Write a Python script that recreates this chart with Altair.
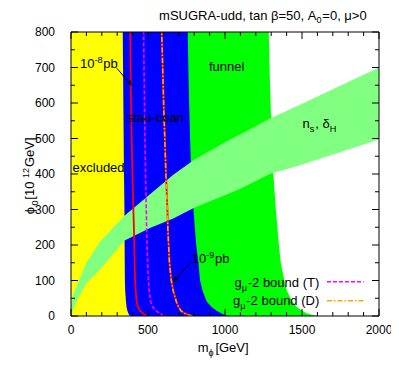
import altair as alt
import pandas as pd

# ---------------- data ----------------
# region boundaries: m_phi [GeV] at given phi_0 [10^12 GeV]
phi_grid = [0, 3, 8, 15, 25, 40, 70, 100, 150, 200, 300, 400, 500, 600, 700, 800]
excluded_edge = [385, 378, 372, 366, 361, 357, 352, 350, 349, 348, 347, 344, 342, 340, 338, 336]
stau_edge = [1020, 1000, 975, 945, 915, 882, 855, 838, 827, 813, 795, 781, 773, 767, 762, 758]
funnel_edge = [1600, 1570, 1530, 1500, 1468, 1438, 1403, 1385, 1362, 1350, 1330, 1314, 1303, 1296, 1289, 1284]

# constraint curves: m_phi at given phi_0
curve_phi = [0, 3, 8, 15, 25, 40, 70, 100, 150, 242, 300, 400, 500, 600, 700, 800]
sigma_1e8 = [495, 480, 465, 448, 435, 426, 420, 416, 413, 409, 405, 399, 394, 390, 387, 385]
gmu_T = [605, 595, 575, 550, 530, 517, 508, 503, 498, 491, 489, 484, 480, 477, 474, 472]
sigma_1e9 = [790, 765, 735, 715, 700, 685, 665, 652, 640, 630, 626, 617, 610, 602, 596, 590]
gmu_D = [788, 763, 733, 713, 699, 684, 664, 651, 639, 629, 625, 616, 609, 601, 595, 589]

# n_s, delta_H band
band_m = [0, 15, 45, 100, 188, 345, 513, 664, 800, 1011, 1097, 1292, 1487, 2000]
band_upper = [30, 62, 92, 150, 209, 282, 343, 398, 440, 492, 511, 556, 595, 700]
band_lower = [0, 18, 50, 92, 130, 212, 248, 275, 305, 342, 358, 400, 425, 497]

# axes ticks
x_major = [0, 500, 1000, 1500, 2000]
x_minor = [v for v in range(0, 2001, 100) if v % 500]
y_major = [0, 100, 200, 300, 400, 500, 600, 700, 800]
y_minor = [50, 150, 250, 350, 450, 550, 650, 750]

# arrows (start m, start phi, tip m, tip phi)
arrow_8 = [297, 698, 394, 650]
arrow_9 = [773, 148, 664, 97]

# ---------------- styling ----------------
FONT = "Liberation Sans"
W, H = 308, 284
NB = "\u00A0"
xs = alt.Scale(domain=[0, 2000], nice=False, zero=False)
ys = alt.Scale(domain=[0, 800], nice=False, zero=False)


def X(f="m"):
    return alt.X(f"{f}:Q", scale=xs, axis=None)


def Y(f="phi"):
    return alt.Y(f"{f}:Q", scale=ys, axis=None)


# ---------------- regions ----------------
green = alt.Chart(pd.DataFrame({"phi": phi_grid, "m": funnel_edge, "m0": 0})).mark_area(
    orient="horizontal", color="#00FF00", clip=True).encode(y=Y(), x=X(), x2="m0")
blue = alt.Chart(pd.DataFrame({"phi": phi_grid, "m": stau_edge, "m0": 0})).mark_area(
    orient="horizontal", color="#0000FF", clip=True).encode(y=Y(), x=X(), x2="m0")
yellow = alt.Chart(pd.DataFrame({"phi": phi_grid, "m": excluded_edge, "m0": 0})).mark_area(
    orient="horizontal", color="#FFFF00", clip=True).encode(y=Y(), x=X(), x2="m0")
band = alt.Chart(pd.DataFrame({"m": band_m, "lo": band_lower, "hi": band_upper})).mark_area(
    color="#80FF80", clip=True).encode(x=X(), y=Y("lo"), y2="hi")


def curve(vals, **props):
    df = pd.DataFrame({"phi": curve_phi, "m": vals})
    return alt.Chart(df).mark_line(clip=True, **props).encode(x=X(), y=Y(), order="phi:Q")


red8 = curve(sigma_1e8, color="#FF0000", strokeWidth=1.8)
magT = curve(gmu_T, color="#FF00FF", strokeWidth=1.6, strokeDash=[4, 2])
red9 = curve(sigma_1e9, color="#FF0000", strokeWidth=1.8)
orgD = curve(gmu_D, color="#FFA500", strokeWidth=1.6, strokeDash=[5, 2, 1.5, 2])

# ---------------- ticks (inward, mirrored) and tick labels ----------------
tick_layers = []
for vals, ln in [(x_major, 7), (x_minor, 4)]:
    d = pd.DataFrame({"m": vals})
    tick_layers.append(alt.Chart(d).mark_rule(color="black", strokeWidth=1).encode(
        x=X(), y=alt.value(H), y2=alt.value(H - ln)))
    tick_layers.append(alt.Chart(d).mark_rule(color="black", strokeWidth=1).encode(
        x=X(), y=alt.value(0), y2=alt.value(ln)))
for vals, ln in [(y_major, 7), (y_minor, 4)]:
    d = pd.DataFrame({"phi": vals})
    tick_layers.append(alt.Chart(d).mark_rule(color="black", strokeWidth=1).encode(
        y=Y(), x=alt.value(0), x2=alt.value(ln)))
    tick_layers.append(alt.Chart(d).mark_rule(color="black", strokeWidth=1).encode(
        y=Y(), x=alt.value(W), x2=alt.value(W - ln)))

xlab = alt.Chart(pd.DataFrame({"m": x_major, "t": [str(v) for v in x_major]})).mark_text(
    font=FONT, fontSize=12, color="black", align="center", baseline="top").encode(
    x=X(), y=alt.value(H + 9), text="t:N")
ylab = alt.Chart(pd.DataFrame({"phi": y_major, "t": [str(v) for v in y_major]})).mark_text(
    font=FONT, fontSize=12, color="black", align="right", baseline="middle").encode(
    y=Y(), x=alt.value(-16), text="t:N")

frame = alt.Chart(pd.DataFrame({"k": [0]})).mark_rect(
    fill=None, fillOpacity=0, stroke="black", strokeWidth=1).encode(
    x=alt.value(0), x2=alt.value(W), y=alt.value(0), y2=alt.value(H))

# ---------------- rich text helper ----------------
AW = {c: 556 for c in "0123456789abdeghnopqu"}
AW.update({" ": 278, NB: 278, "-": 333, "[": 278, "]": 278, "(": 333, ")": 333, ",": 278,
           "=": 584, ">": 584, "c": 500, "f": 278, "i": 222, "k": 500, "l": 222, "m": 833,
           "r": 333, "s": 500, "t": 278, "v": 500, "x": 500, "y": 500, "A": 667, "D": 722,
           "G": 778, "H": 722, "R": 722, "S": 667, "T": 611, "U": 722, "V": 667, "β": 575,
           "δ": 556, "μ": 577, "ϕ": 660})


def tw(s, size):
    return sum(AW.get(c, 556) for c in s) * size / 1000.0


def rich(parts, m=None, phi=None, xpx=None, ypx=None, align="left", size=13, angle=None):
    row, enc = {}, {}
    if m is not None:
        row["m"] = [m]
        enc["x"] = X()
    else:
        enc["x"] = alt.value(xpx)
    if phi is not None:
        row["phi"] = [phi]
        enc["y"] = Y()
    else:
        enc["y"] = alt.value(ypx)
    if not row:
        row = {"k": [0]}
    df = pd.DataFrame(row)
    parts = [(t.replace(" ", NB), k) for t, k in parts]
    sizes = [size if k == "n" else size * 0.7 for _, k in parts]
    widths = [tw(t, s) + (0.8 if k != "n" else 0) for (t, k), s in zip(parts, sizes)]
    total = sum(widths)
    off = 0 if align == "left" else (-total / 2 if align == "center" else -total)
    out = []
    for (t, k), s, w in zip(parts, sizes, widths):
        dy = 0 if k == "n" else (0.3 * size if k == "sub" else -0.42 * size)
        props = dict(text=t, align="left", baseline="alphabetic", dx=off, dy=dy,
                     fontSize=s, font=FONT, color="black")
        if angle:
            props["angle"] = angle
        out.append(alt.Chart(df).mark_text(**props).encode(**enc))
        off += w
    return out


texts = []
texts += rich([("mSUGRA-udd, tan β=50, A", "n"), ("0", "sub"), ("=0, μ>0", "n")],
              m=1920, ypx=-12.5, align="right")
texts += rich([("10", "n"), ("-8", "sup"), ("pb", "n")], m=58, phi=698)
texts += rich([("10", "n"), ("-9", "sup"), ("pb", "n")], m=784, phi=149)
texts += rich([("excluded", "n")], m=10, phi=406)
texts += rich([("stau-coan", "n")], m=362, phi=547)
texts += rich([("funnel", "n")], m=896, phi=690)
texts += rich([("n", "n"), ("s", "sub"), (", δ", "n"), ("H", "sub")], m=1504, phi=529)
texts += rich([("g", "n"), ("μ", "sub"), ("-2 bound (T)", "n")], m=1612, phi=82.5, align="right")
texts += rich([("g", "n"), ("μ", "sub"), ("-2 bound (D)", "n")], m=1612, phi=31, align="right")
texts += rich([("m", "n"), ("ϕ", "sub"), (" [GeV]", "n")], m=1000, ypx=H + 36, align="center")
texts += rich([("ϕ", "n"), ("0", "sub"), (" [10", "n"), ("12", "sup"), (" GeV]", "n")],
              phi=400, xpx=-37, align="center", angle=270)

# ---------------- arrows ----------------
arrow_layers = []
for a, ang in [(arrow_8, 138), (arrow_9, 223)]:
    d = pd.DataFrame({"m": [a[0], a[2]], "phi": [a[1], a[3]], "o": [0, 1]})
    arrow_layers.append(alt.Chart(d).mark_line(color="black", strokeWidth=1).encode(
        x=X(), y=Y(), order="o:Q"))
    hm = a[0] + 0.9 * (a[2] - a[0])
    hp = a[1] + 0.9 * (a[3] - a[1])
    arrow_layers.append(alt.Chart(pd.DataFrame({"m": [hm], "phi": [hp]})).mark_point(
        shape="triangle-up", filled=True, color="black", size=28, angle=ang, opacity=1).encode(
        x=X(), y=Y()))

# ---------------- legend samples ----------------
leg_T = alt.Chart(pd.DataFrame({"m": [1662, 1900], "phi": [96.6, 96.6]})).mark_line(
    color="#FF00FF", strokeWidth=1.6, strokeDash=[4, 2]).encode(x=X(), y=Y())
leg_D = alt.Chart(pd.DataFrame({"m": [1662, 1900], "phi": [43, 43]})).mark_line(
    color="#FFA500", strokeWidth=1.6, strokeDash=[5, 2, 1.5, 2]).encode(x=X(), y=Y())

chart = alt.layer(
    green, blue, yellow, band, red8, magT, red9, orgD,
    *tick_layers, frame, xlab, ylab, *arrow_layers, leg_T, leg_D, *texts
).properties(
    width=W, height=H,
    padding={"left": 63, "top": 24, "right": 12, "bottom": 47},
    autosize=alt.AutoSizeParams(type="none"),
).configure_view(stroke=None)

chart.save("out.html", embed_options={"renderer": "svg", "actions": False})
